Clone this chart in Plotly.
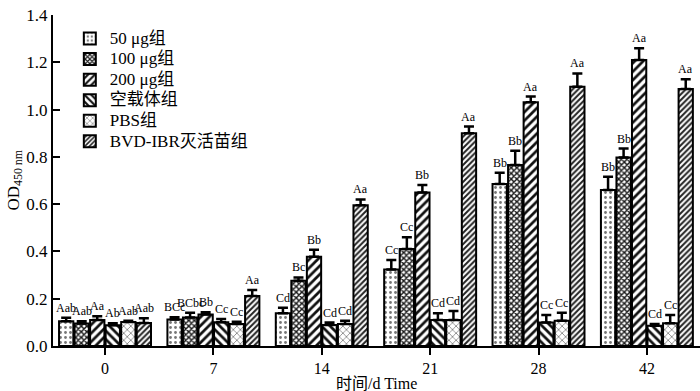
import plotly.graph_objects as go

days = ["0", "7", "14", "21", "28", "42"]
groups = ["50 μg组", "100 μg组", "200 μg组", "空载体组", "PBS组", "BVD-IBR灭活苗组"]

v50 = [0.105, 0.112, 0.138, 0.324, 0.685, 0.660]
v100 = [0.095, 0.121, 0.276, 0.410, 0.766, 0.797]
v200 = [0.110, 0.133, 0.377, 0.649, 1.031, 1.210]
vempty = [0.088, 0.100, 0.089, 0.110, 0.099, 0.086]
vpbs = [0.102, 0.093, 0.093, 0.110, 0.107, 0.096]
vbvd = [0.097, 0.212, 0.595, 0.900, 1.097, 1.087]

e50 = [0.015, 0.010, 0.024, 0.040, 0.048, 0.056]
e100 = [0.010, 0.020, 0.014, 0.050, 0.060, 0.038]
e200 = [0.016, 0.010, 0.030, 0.032, 0.024, 0.049]
eempty = [0.008, 0.014, 0.010, 0.028, 0.032, 0.007]
epbs = [0.005, 0.010, 0.014, 0.038, 0.034, 0.035]
ebvd = [0.020, 0.025, 0.025, 0.028, 0.056, 0.041]

l50 = ["Aab", "BCc", "Cd", "Cc", "Bb", "Bb"]
l100 = ["Aab", "BCbc", "Bc", "Cc", "Bb", "Bb"]
l200 = ["Aa", "Bb", "Bb", "Bb", "Aa", "Aa"]
lempty = ["Ab", "Cc", "Cd", "Cd", "Cc", "Cd"]
lpbs = ["Aab", "Cc", "Cd", "Cd", "Cc", "Cc"]
lbvd = ["Aab", "Aa", "Aa", "Aa", "Aa", "Aa"]

values = [v50, v100, v200, vempty, vpbs, vbvd]
errors = [e50, e100, e200, eempty, epbs, ebvd]
letters = [l50, l100, l200, lempty, lpbs, lbvd]

patterns = [
    dict(shape=".", fgcolor="#777777", bgcolor="white", size=5, solidity=0.25),
    dict(shape="x", fgcolor="#1a1a1a", bgcolor="white", size=4, solidity=0.6),
    dict(shape="/", fgcolor="#111111", bgcolor="white", size=6, solidity=0.45),
    dict(shape="\\", fgcolor="#111111", bgcolor="white", size=6, solidity=0.45),
    dict(shape="x", fgcolor="#666666", bgcolor="white", size=5, solidity=0.25),
    dict(shape="/", fgcolor="#222222", bgcolor="white", size=4, solidity=0.5),
]

FONT = "Liberation Serif, Times New Roman, Noto Sans CJK SC, serif"
xs = list(range(len(days)))
bargap = 0.14
bargroupgap = 0.08
ntr = len(groups)
slot = (1 - bargap) / ntr

fig = go.Figure()
for i, name in enumerate(groups):
    fig.add_trace(go.Bar(
        x=xs, y=values[i], name=f'<span style="font-size:17px">{name}</span>',
        marker=dict(color="white", line=dict(color="black", width=2), pattern=patterns[i]),
        error_y=dict(type="data", array=errors[i], arrayminus=[0] * len(days), symmetric=False,
                     color="black", thickness=2.5, width=5),
    ))

annotations = []
for i in range(ntr):
    for j, x in enumerate(xs):
        annotations.append(dict(
            x=x + (i - (ntr - 1) / 2) * slot, y=values[i][j] + errors[i][j],
            xref="x", yref="y", text=letters[i][j], showarrow=False,
            yanchor="bottom", yshift=1, font=dict(family=FONT, size=12, color="black"),
        ))

annotations.append(dict(
    text="OD<sub>450 nm</sub>", textangle=-90, showarrow=False,
    xref="paper", yref="paper", x=0, y=0.5, xanchor="center", yanchor="middle",
    xshift=-39, font=dict(family=FONT, size=17, color="black"),
))
annotations.append(dict(
    text="时间/d Time", showarrow=False,
    xref="paper", yref="paper", x=0.5, y=0, xanchor="center", yanchor="middle",
    yshift=-37, font=dict(family=FONT, size=16, color="black"),
))

fig.update_layout(
    template="none",
    width=700, height=391,
    margin=dict(l=53, r=0, t=15, b=45),
    paper_bgcolor="white", plot_bgcolor="white",
    barmode="group", bargap=bargap, bargroupgap=bargroupgap,
    font=dict(family=FONT, size=14, color="black"),
    showlegend=True,
    legend=dict(x=0.026, y=0.975, xanchor="left", yanchor="top", bgcolor="rgba(0,0,0,0)",
                font=dict(family=FONT, size=13.5, color="black"), tracegroupgap=0,
                itemwidth=30),
    annotations=annotations,
    xaxis=dict(
        tickmode="array", tickvals=xs, ticktext=days, range=[-0.48, 5.49],
        showline=True, linecolor="black", linewidth=2, ticks="outside", ticklen=7,
        tickwidth=2, tickcolor="black", showgrid=False, zeroline=False, automargin=False,
        tickfont=dict(family=FONT, size=16), ticklabeloverflow="allow",
    ),
    yaxis=dict(
        range=[0, 1.4], tickvals=[0, 0.2, 0.4, 0.6, 0.8, 1.0, 1.2, 1.4],
        ticktext=["0.0", "0.2", "0.4", "0.6", "0.8", "1.0", "1.2", "1.4"],
        showline=True, linecolor="black", linewidth=2, ticks="inside", ticklen=7,
        tickwidth=2, tickcolor="black", showgrid=False, zeroline=False, automargin=False,
        tickfont=dict(family=FONT, size=17), ticklabeloverflow="allow",
    ),
)

fig.write_html("out.html", config={"displayModeBar": False},
               post_script="document.body.style.margin='0';")
